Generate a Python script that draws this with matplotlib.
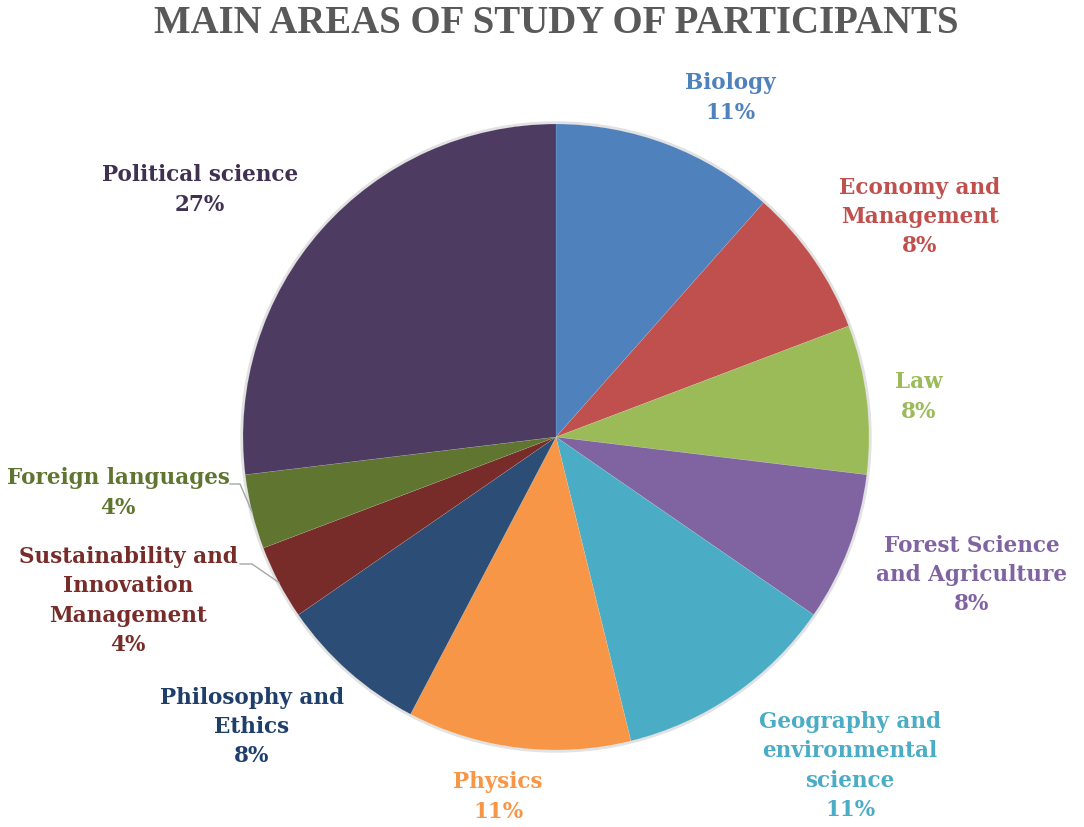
import numpy as np
import matplotlib
matplotlib.use('Agg')
import matplotlib.pyplot as plt
from matplotlib.patches import Circle

# participants per area (slice sizes) and the percentages printed on the chart
areas = ['Biology', 'Economy and\nManagement', 'Law', 'Forest Science\nand Agriculture',
         'Geography and\nenvironmental\nscience', 'Physics', 'Philosophy and\nEthics',
         'Sustainability and\nInnovation\nManagement', 'Foreign languages', 'Political science']
counts = [3, 2, 2, 2, 3, 3, 2, 1, 1, 7]
pct_labels = [11, 8, 8, 8, 11, 11, 8, 4, 4, 27]

slice_colors = ['#4F81BD', '#C0504D', '#9BBB59', '#8064A2', '#4BACC6',
                '#F79646', '#2C4D75', '#772C2A', '#5F7530', '#4D3B62']
text_colors = ['#4F81BD', '#C0504D', '#9BBB59', '#8064A2', '#4BACC6',
               '#F79646', '#1F3F6B', '#772C2A', '#5F7530', '#403152']

# label block centres, in pixel coords (y down) of the 1084x827 canvas
label_pos = [(730, 98), (920, 217), (919, 397), (972, 575), (850, 766),
             (498, 797), (252, 727), (128, 601), (118, 493), (200, 190)]
leader = {7: (240, 564, 252), 8: (230, 484, 240)}   # idx -> (x0, y, x1)

W, H = 1084, 827
cx, cy, R = 556, 437, 313

fig = plt.figure(figsize=(W / 100, H / 100), dpi=100)
ax = fig.add_axes([0, 0, 1, 1])

# soft rim like the excel shadow
ax.add_patch(Circle((cx, H - cy), R + 2, color='#e2e2e2', zorder=0))

wedges, _ = ax.pie(counts, colors=slice_colors, startangle=90, counterclock=False,
                   center=(cx, H - cy), radius=R, frame=True,
                   wedgeprops=dict(linewidth=0.3, edgecolor='#ffffff40'))
ax.set_xlim(0, W)
ax.set_ylim(0, H)
ax.set_aspect('equal')
ax.axis('off')

for i, (name, p) in enumerate(zip(areas, pct_labels)):
    x, y = label_pos[i]
    ax.text(x, H - y, f'{name}\n{p}%', ha='center', va='center', color=text_colors[i],
            fontsize=15.5, fontweight='bold', family='DejaVu Serif', linespacing=1.42)
    if i in leader:
        w = wedges[i]
        mid = np.deg2rad((w.theta1 + w.theta2) / 2)
        ex, ey = cx + R * np.cos(mid), (H - cy) + R * np.sin(mid)
        x0, ly, x1 = leader[i]
        ax.plot([x0, x1, ex], [H - ly, H - ly, ey], color='#a6a6a6', lw=1, zorder=3)

ax.text(556, H - 33, 'MAIN AREAS OF STUDY OF PARTICIPANTS', ha='center', va='baseline',
        color='#595959', fontsize=28, fontweight='bold', family='Liberation Serif')

fig.savefig('out.png', dpi=100)
